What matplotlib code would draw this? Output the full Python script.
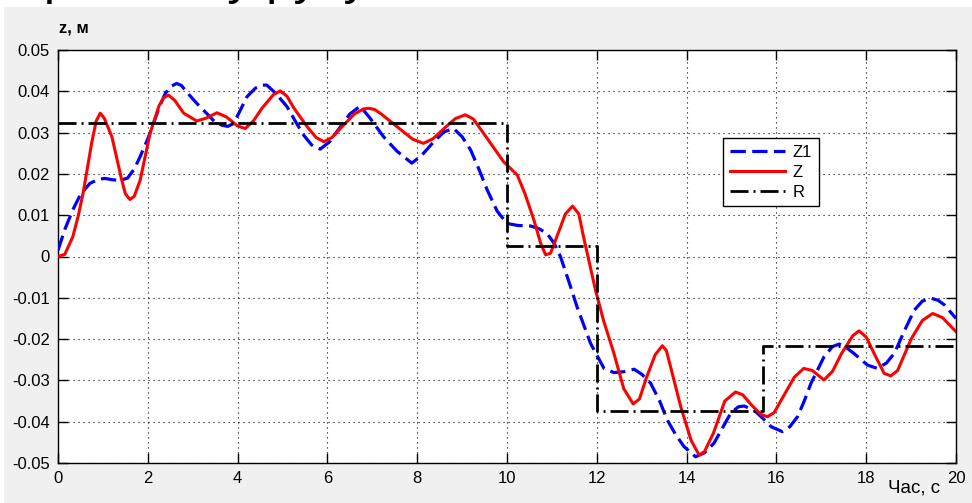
import matplotlib
matplotlib.use("Agg")
import matplotlib.pyplot as plt
from matplotlib.patches import Rectangle

plt.rcParams['font.family'] = ['Liberation Sans', 'DejaVu Sans']

# Z (red, solid)
t_z = [0.0, 0.15, 0.33, 0.45, 0.56, 0.75, 0.85, 0.94, 1.03, 1.2, 1.42, 1.5, 1.6, 1.7, 1.83,
       2.05, 2.25, 2.35, 2.46, 2.6, 2.8, 3.09, 3.3, 3.54, 3.75, 4.0, 4.17, 4.35, 4.55, 4.8,
       4.95, 5.1, 5.25, 5.55, 5.75, 5.92, 6.1, 6.29, 6.6, 6.8, 6.91, 7.05, 7.2, 7.6, 7.9,
       8.14, 8.35, 8.6, 8.85, 9.07, 9.25, 9.5, 9.92, 10.23, 10.4, 10.6, 10.75, 10.86,
       10.97, 11.1, 11.3, 11.46, 11.6, 11.7, 11.97, 12.15, 12.38, 12.6, 12.81, 12.95,
       13.1, 13.3, 13.46, 13.55, 13.65, 13.87, 14.1, 14.28, 14.4, 14.6, 14.85, 15.09,
       15.25, 15.45, 15.65, 15.8, 15.95, 16.2, 16.4, 16.61, 16.8, 17.06, 17.25, 17.45,
       17.7, 17.84, 18.0, 18.2, 18.4, 18.55, 18.7, 19.0, 19.25, 19.48, 19.7, 20.0]
z = [0.0, 0.0005, 0.0048, 0.0098, 0.0154, 0.0275, 0.0328, 0.0347, 0.0335, 0.029, 0.0185,
     0.0152, 0.0138, 0.0146, 0.0185, 0.0298, 0.0365, 0.0384, 0.0391, 0.0378, 0.0347,
     0.0328, 0.0335, 0.0348, 0.0338, 0.0316, 0.031, 0.0328, 0.036, 0.0392, 0.0401, 0.0388,
     0.036, 0.0314, 0.0288, 0.0278, 0.0288, 0.031, 0.0345, 0.0357, 0.0359, 0.0356, 0.0345,
     0.031, 0.0284, 0.0274, 0.0285, 0.031, 0.0334, 0.0343, 0.0333, 0.0295, 0.023, 0.0197,
     0.0152, 0.0088, 0.0032, 0.0004, 0.0008, 0.0045, 0.0103, 0.0122, 0.0103, 0.005,
     -0.0081, -0.0155, -0.0234, -0.032, -0.0357, -0.0345, -0.0295, -0.0238, -0.0216,
     -0.0228, -0.027, -0.0364, -0.0445, -0.0481, -0.0472, -0.0427, -0.035, -0.0328,
     -0.0335, -0.036, -0.0382, -0.0388, -0.0378, -0.033, -0.0292, -0.0271, -0.0276,
     -0.0299, -0.0278, -0.0235, -0.0192, -0.018, -0.0195, -0.024, -0.0283, -0.0289,
     -0.0276, -0.020, -0.0155, -0.0138, -0.0148, -0.0182]

# Z1 (blue, dashed)
t_z1 = [0.0, 0.15, 0.33, 0.5, 0.71, 0.9, 1.05, 1.2, 1.38, 1.55, 1.7, 1.83, 2.0, 2.13, 2.25,
        2.39, 2.52, 2.64, 2.75, 2.85, 3.09, 3.35, 3.5, 3.65, 3.78, 3.91, 4.05, 4.21, 4.4,
        4.55, 4.65, 4.85, 5.1, 5.3, 5.47, 5.65, 5.84, 6.05, 6.29, 6.5, 6.73, 6.95, 7.25,
        7.55, 7.88, 8.1, 8.37, 8.6, 8.81, 9.0, 9.19, 9.38, 9.56, 9.78, 10.0, 10.25, 10.52,
        10.7, 10.89, 11.05, 11.19, 11.4, 11.56, 11.86, 12.16, 12.38, 12.6, 12.83, 13.0,
        13.2, 13.4, 13.57, 13.75, 13.94, 14.2, 14.4, 14.61, 14.8, 14.98, 15.15, 15.28,
        15.5, 15.7, 15.88, 16.13, 16.3, 16.47, 16.62, 16.77, 17.06, 17.25, 17.4, 17.55,
        17.73, 18.03, 18.25, 18.45, 18.63, 18.85, 19.07, 19.25, 19.44, 19.6, 19.74, 20.0]
z1 = [0.0015, 0.0065, 0.0113, 0.015, 0.0177, 0.0187, 0.0189, 0.0186, 0.0184, 0.019, 0.0212,
      0.0242, 0.0285, 0.0323, 0.036, 0.0395, 0.0412, 0.0419, 0.0414, 0.040, 0.0371, 0.0342,
      0.0325, 0.0318, 0.0315, 0.0322, 0.0352, 0.0387, 0.0408, 0.0415, 0.0415, 0.0395,
      0.0363, 0.0325, 0.0294, 0.027, 0.026, 0.0278, 0.0314, 0.0345, 0.0364, 0.0335, 0.029,
      0.0255, 0.0226, 0.0245, 0.0278, 0.0302, 0.031, 0.029, 0.0258, 0.021, 0.0161, 0.011,
      0.008, 0.0075, 0.0074, 0.0068, 0.0056, 0.0032, 0.0, -0.0068, -0.0122, -0.021,
      -0.0271, -0.0281, -0.0279, -0.0273, -0.0285, -0.0307, -0.035, -0.0396, -0.043,
      -0.046, -0.0485, -0.0475, -0.0452, -0.0415, -0.038, -0.0364, -0.0362, -0.0372,
      -0.0392, -0.0412, -0.0424, -0.0412, -0.0388, -0.035, -0.0307, -0.0243, -0.0218,
      -0.0212, -0.022, -0.0235, -0.0263, -0.0271, -0.0258, -0.0234, -0.018, -0.013,
      -0.0108, -0.0101, -0.0106, -0.0117, -0.015]

# R (black, dash-dot step)
t_r = [0, 10, 10, 12, 12, 15.7, 15.7, 20]
r = [0.0323, 0.0323, 0.0025, 0.0025, -0.0374, -0.0374, -0.0217, -0.0217]

xticks = [0, 2, 4, 6, 8, 10, 12, 14, 16, 18, 20]
yticks = [-0.05, -0.04, -0.03, -0.02, -0.01, 0, 0.01, 0.02, 0.03, 0.04, 0.05]
ylabels = ['-0.05', '-0.04', '-0.03', '-0.02', '-0.01', '0', '0.01', '0.02', '0.03', '0.04', '0.05']

fig = plt.figure(figsize=(9.72, 5.03), dpi=100, facecolor='white')
bg = Rectangle((4 / 972, 0), 1, 496 / 503, transform=fig.transFigure,
               facecolor='#f0f0f0', edgecolor='none')
bg.set_zorder(-10)
fig.add_artist(bg)
# cut-off caption line above the chart (only the descenders show)
fig.text(8 / 972, 1 + 6 / 503, 'Протоколу руху', fontsize=36, va='baseline', ha='left')

ax = fig.add_axes([58 / 972, 40 / 503, 898 / 972, 413 / 503])
ax.set_zorder(1)
ax.set_facecolor('white')

ax.plot(t_z1, z1, color='blue', lw=2.3, dashes=(4.8, 2.0), label='Z1', zorder=3)
ax.plot(t_z, z, color='red', lw=2.2, label='Z', zorder=4)
ax.plot(t_r, r, color='black', lw=2.0, dashes=(6.5, 1.8, 0.7, 1.8), label='R', zorder=5)

ax.set_xlim(0, 20)
ax.set_ylim(-0.05, 0.05)
ax.set_xticks(xticks)
ax.set_yticks(yticks)
ax.set_yticklabels(ylabels)
ax.tick_params(direction='in', length=7, width=1, top=True, right=True, labelsize=12,
               pad=6)
ax.grid(True, color='black', linestyle=(0, (1, 3.5)), linewidth=0.8)
for s in ax.spines.values():
    s.set_linewidth(1)

fig.text(59 / 972, 1 - 28 / 503, 'z, м', fontsize=12, fontweight='bold',
         va='center', ha='left')
fig.text(940 / 972, 1 - 488 / 503, 'Час, с', fontsize=13.5, va='center', ha='right')

leg = ax.legend(loc='upper left', bbox_to_anchor=(0.7405, 0.787), fontsize=12,
                handlelength=3.3, labelspacing=0.3, borderaxespad=0, fancybox=False,
                framealpha=1, edgecolor='black', handletextpad=0.5, borderpad=0.4)
leg.get_frame().set_linewidth(1)

fig.savefig('out.png', dpi=100, facecolor=fig.get_facecolor())
